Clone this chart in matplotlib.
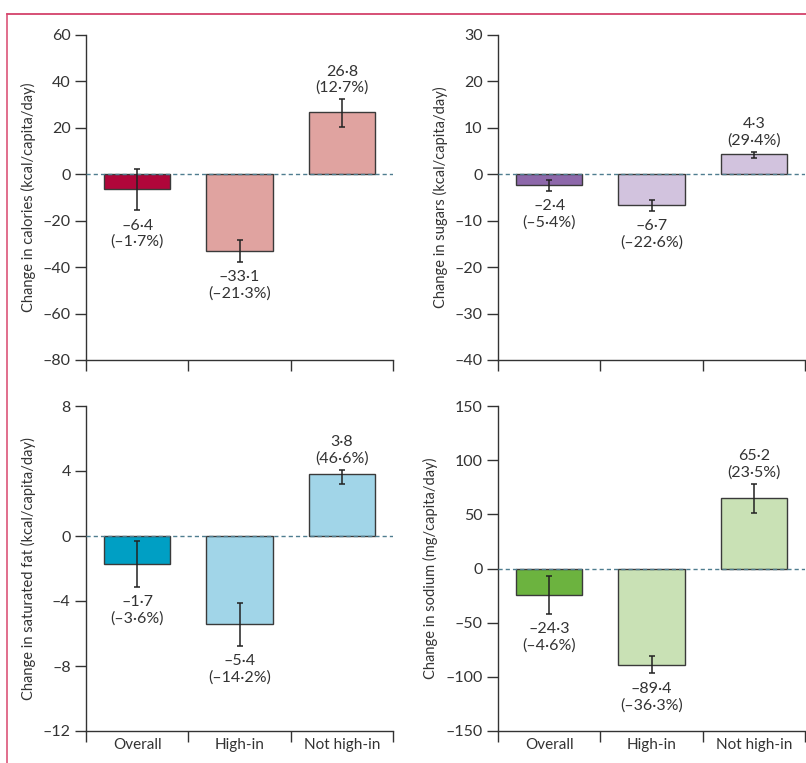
import matplotlib.pyplot as plt
from matplotlib.lines import Line2D
from matplotlib.ticker import FuncFormatter

categories = ["Overall", "High-in", "Not high-in"]

cal_change = [-6.4, -33.1, 26.8]
cal_low = [-15.5, -37.8, 20.4]
cal_high = [2.3, -28.1, 32.3]
cal_pct = [-1.7, -21.3, 12.7]

sug_change = [-2.4, -6.7, 4.3]
sug_low = [-3.6, -7.9, 3.6]
sug_high = [-1.15, -5.6, 4.8]
sug_pct = [-5.4, -22.6, 29.4]

fat_change = [-1.7, -5.4, 3.8]
fat_low = [-3.14, -6.77, 3.2]
fat_high = [-0.29, -4.12, 4.08]
fat_pct = [-3.6, -14.2, 46.6]

sod_change = [-24.3, -89.4, 65.2]
sod_low = [-41.8, -96.9, 51.0]
sod_high = [-6.8, -80.9, 77.8]
sod_pct = [-4.6, -36.3, 23.5]

plt.rcParams["font.family"] = ["Lato", "DejaVu Sans"]
TXT = "#333333"


def fmt(v):
    return f"{v:.1f}".replace("-", "\u2013").replace(".", "\u00b7")


def tickfmt(v, pos):
    return f"{v:g}".replace("-", "\u2013")


def panel(ax, change, low, high, pct, colors, ylim, step, ylabel, show_x):
    x = list(range(len(change)))
    ax.axhline(0, color="#4f7d8f", lw=1, ls=(0, (3, 2.2)), zorder=4)
    ax.bar(x, change, width=0.65, color=colors, edgecolor="#3a3a3a",
           linewidth=1, zorder=2)
    yerr = [[c - l for c, l in zip(change, low)],
            [h - c for c, h in zip(change, high)]]
    ax.errorbar(x, change, yerr=yerr, fmt="none", ecolor="#222222",
                elinewidth=1.1, capsize=2.5, capthick=1.1, zorder=5)
    for i in x:
        txt = fmt(change[i]) + "\n(" + fmt(pct[i]) + "%)"
        if change[i] < 0:
            ax.annotate(txt, (i, min(low[i], change[i])), xytext=(0, -6),
                        textcoords="offset points", ha="center", va="top",
                        fontsize=11.5, color=TXT, linespacing=1.2)
        else:
            ax.annotate(txt, (i, max(high[i], change[i])), xytext=(0, 3),
                        textcoords="offset points", ha="center",
                        va="bottom", fontsize=11.5, color=TXT,
                        linespacing=1.2)
    ax.set_xlim(-0.5, len(change) - 0.5)
    ax.set_ylim(ylim)
    ticks = []
    t = ylim[0]
    while t <= ylim[1] + 1e-9:
        ticks.append(t)
        t += step
    ax.set_yticks(ticks)
    ax.yaxis.set_major_formatter(FuncFormatter(tickfmt))
    ax.set_xticks([i - 0.5 for i in range(len(change) + 1)])
    ax.set_xticklabels([])
    ax.set_xticks(x, minor=True)
    ax.set_xticklabels(categories if show_x else [], minor=True)
    ax.tick_params(axis="x", which="minor", length=0, pad=5,
                   labelsize=11, labelcolor=TXT)
    ax.tick_params(axis="x", which="major", length=8, width=1,
                   color="#333333")
    ax.tick_params(axis="y", length=8, width=1, color="#333333",
                   labelsize=11.5, labelcolor=TXT, pad=3)
    ax.spines["top"].set_visible(False)
    ax.spines["right"].set_visible(False)
    for s in ("left", "bottom"):
        ax.spines[s].set_color("#333333")
        ax.spines[s].set_linewidth(1)
    ax.set_ylabel(ylabel, fontsize=10.5, color=TXT, labelpad=5)


fig = plt.figure(figsize=(8.06, 7.63), dpi=100)
W, H = 806, 763
aw, ah = 307 / W, 325 / H
ax1 = fig.add_axes([86 / W, 1 - 360 / H, aw, ah])
ax2 = fig.add_axes([498 / W, 1 - 360 / H, aw, ah])
ax3 = fig.add_axes([86 / W, 1 - 731 / H, aw, ah])
ax4 = fig.add_axes([498 / W, 1 - 731 / H, aw, ah])

panel(ax1, cal_change, cal_low, cal_high, cal_pct,
      ["#b0063a", "#e0a3a0", "#e0a3a0"], (-80, 60), 20,
      "Change in calories (kcal/capita/day)", False)
panel(ax2, sug_change, sug_low, sug_high, sug_pct,
      ["#8d68aa", "#d2c3de", "#d2c3de"], (-40, 30), 10,
      "Change in sugars (kcal/capita/day)", False)
panel(ax3, fat_change, fat_low, fat_high, fat_pct,
      ["#009fc4", "#a1d5e8", "#a1d5e8"], (-12, 8), 4,
      "Change in saturated fat (kcal/capita/day)", True)
panel(ax4, sod_change, sod_low, sod_high, sod_pct,
      ["#6cb33f", "#c9e1b5", "#c9e1b5"], (-150, 150), 50,
      "Change in sodium (mg/capita/day)", True)

# red frame top and left
fig.add_artist(Line2D([7 / W, 1], [1 - 14 / H, 1 - 14 / H],
                      color="#cc1f50", lw=1.1, transform=fig.transFigure))
fig.add_artist(Line2D([7 / W, 7 / W], [0, 1 - 14 / H],
                      color="#d8476e", lw=1.1, transform=fig.transFigure))

fig.savefig("out.png", dpi=100)
